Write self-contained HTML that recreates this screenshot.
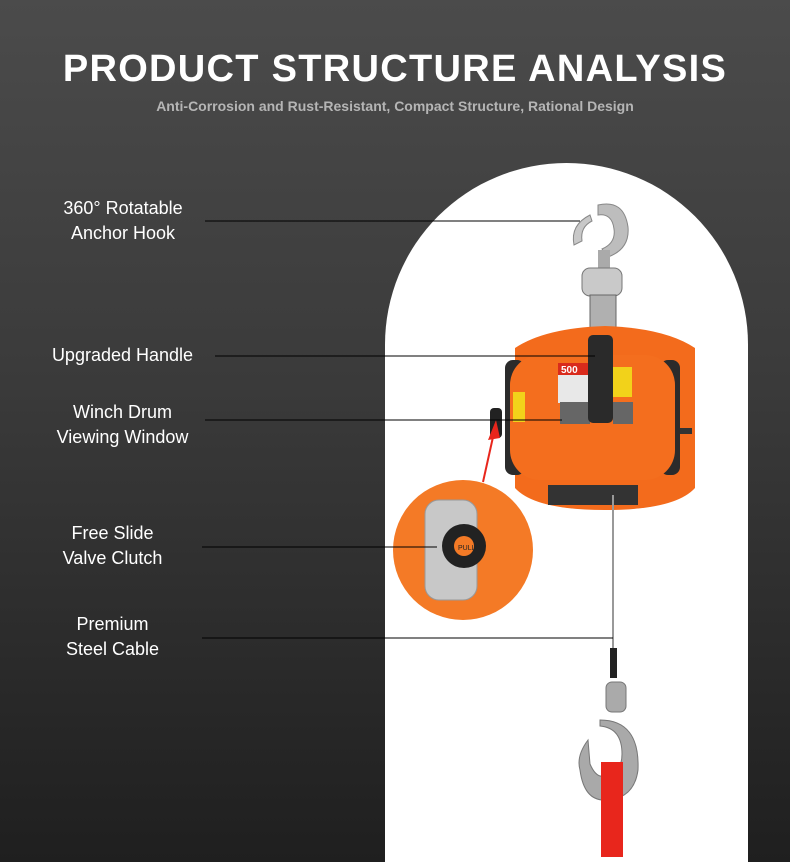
<!DOCTYPE html>
<html><head><meta charset="utf-8"><style>
html,body{margin:0;padding:0;background:#1f1f1f}
body{width:790px;height:862px;position:relative;overflow:hidden;background:linear-gradient(180deg,#4b4b4b 0%,#3a3a3a 45%,#1f1f1f 100%);font-family:"Liberation Sans",sans-serif}
.t{position:absolute;left:0;width:790px;text-align:center;color:#fff;white-space:nowrap}
.lab{position:absolute;color:#fff;font-size:18px;line-height:25px;text-align:center}
</style></head><body>
<div class="t" style="top:48px;font-size:38px;font-weight:bold;letter-spacing:1.3px">PRODUCT STRUCTURE ANALYSIS</div>
<div class="t" style="top:98px;font-size:14px;font-weight:bold;color:#b5b5b5">Anti-Corrosion and Rust-Resistant, Compact Structure, Rational Design</div>
<div style="position:absolute;left:385px;top:163px;width:363px;height:699px;background:#fff;border-radius:182px 182px 0 0"></div>
<svg width="790" height="862" style="position:absolute;left:0;top:0">
<path d="M598 205 q26 -6 30 22 q2 22 -20 30 l-6 -8 q14 -6 12 -20 q-2 -16 -16 -14z" fill="#bdbdbd" stroke="#888"/>
<path d="M590 215 q-20 10 -16 30 l8 -4 q-2 -14 10 -20z" fill="#c8c8c8" stroke="#888"/>
<rect x="598" y="250" width="12" height="20" fill="#aaa"/>
<rect x="582" y="268" width="40" height="28" rx="8" fill="#c9c9c9" stroke="#777"/>
<rect x="590" y="295" width="26" height="38" fill="#b0b0b0" stroke="#666"/>
<path d="M515 348 q30 -20 90 -22 q60 2 90 22 l0 140 q-20 22 -90 22 q-70 0 -90 -22z" fill="#f36b1c"/>
<rect x="505" y="360" width="20" height="115" rx="8" fill="#2b2b2b"/>
<rect x="660" y="360" width="20" height="115" rx="8" fill="#2b2b2b"/>
<rect x="510" y="355" width="165" height="125" rx="30" fill="#f46e1e"/>
<rect x="558" y="363" width="35" height="40" fill="#e8e8e8"/>
<rect x="558" y="363" width="35" height="12" fill="#d92b1c"/>
<text x="561" y="373" font-size="10" font-weight="bold" fill="#fff">500</text>
<rect x="560" y="402" width="30" height="22" fill="#666"/>
<rect x="612" y="367" width="20" height="30" fill="#f2d21a"/>
<rect x="613" y="402" width="20" height="22" fill="#666"/>
<rect x="513" y="392" width="12" height="30" fill="#f2d21a"/>
<rect x="588" y="335" width="25" height="88" rx="5" fill="#2a2a2a"/>
<rect x="490" y="408" width="12" height="30" rx="4" fill="#222"/>
<rect x="680" y="428" width="12" height="6" fill="#333"/>
<rect x="548" y="485" width="90" height="20" fill="#333"/>
<line x1="613" y1="495" x2="613" y2="650" stroke="#999" stroke-width="2"/>
<rect x="610" y="648" width="7" height="30" fill="#222"/>
<rect x="606" y="682" width="20" height="30" rx="6" fill="#aaa" stroke="#777"/>
<path d="M600 720 q40 0 38 50 q-4 30 -34 30 q-20 0 -24 -30 q-4 -14 8 -30 l2 24 q6 14 14 12 q18 -2 18 -22 q0 -26 -22 -28z" fill="#a9a9a9" stroke="#777"/>
<rect x="601" y="762" width="22" height="95" fill="#e8261c"/>
<path d="M495 428 l-12 54" stroke="#e8261c" stroke-width="2"/>
<polygon points="496,420 488,440 500,438" fill="#e8261c"/>
<circle cx="463" cy="550" r="70" fill="#f47a26"/>
<rect x="425" y="500" width="52" height="100" rx="14" fill="#c8c8c8" stroke="#999"/>
<circle cx="464" cy="546" r="22" fill="#222"/>
<circle cx="464" cy="546" r="10" fill="#f47a26"/>
<text x="458" y="550" font-size="7" fill="#222">PULL</text>
<g stroke="#000" stroke-width="1">
<line x1="205" y1="221" x2="580" y2="221"/>
<line x1="215" y1="356" x2="595" y2="356"/>
<line x1="205" y1="420" x2="562" y2="420"/>
<line x1="202" y1="547" x2="437" y2="547"/>
<line x1="202" y1="638" x2="613" y2="638"/>
</g>
</svg>
<div class="lab" style="left:48px;top:196px;width:150px">360° Rotatable<br>Anchor Hook</div>
<div class="lab" style="left:40px;top:343px;width:165px">Upgraded Handle</div>
<div class="lab" style="left:40px;top:400px;width:165px">Winch Drum<br>Viewing Window</div>
<div class="lab" style="left:40px;top:521px;width:145px">Free Slide<br>Valve Clutch</div>
<div class="lab" style="left:40px;top:612px;width:145px">Premium<br>Steel Cable</div>
</body></html>
